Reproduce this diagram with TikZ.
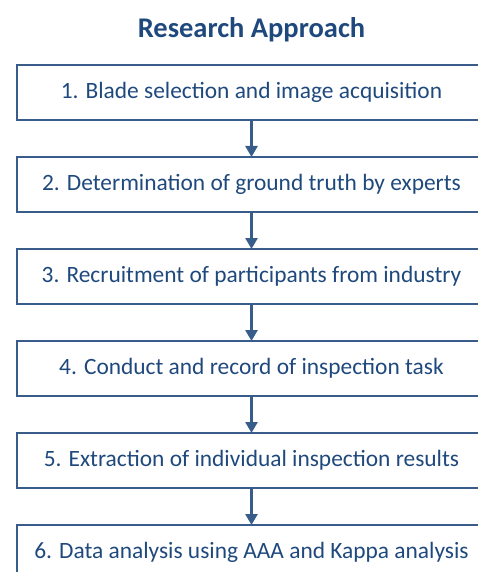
\documentclass[tikz,border=0pt]{standalone}
\usepackage{fontspec}
\setmainfont{Carlito}
\usetikzlibrary{positioning,arrows.meta}

\definecolor{linecol}{HTML}{385D8A}
\definecolor{textcol}{HTML}{1F497D}

\tikzset{
  stepbox/.style={draw=linecol, line width=1.8pt, minimum width=469pt, minimum height=55pt,
    text=textcol, font=\fontsize{23.4}{28}\selectfont, inner sep=0pt},
  flow/.style={draw=linecol, line width=2.6pt, -{Triangle[width=12pt,length=11pt]}, shorten <=-0.9pt, shorten >=-0.9pt}
}

\begin{document}
\begin{tikzpicture}[x=1pt,y=1pt]
    \useasboundingbox (0,0) rectangle (477,-572);
    % title
    \node[text=textcol, font=\fontsize{28.5}{34}\selectfont\bfseries] (title) at (251.5,-30) {Research Approach};
    % the six steps
    \node[stepbox] (s1) at (251.5,-92.5) {1. Blade selection and image acquisition};
    \node[stepbox, below=35.2pt of s1] (s2) {2. Determination of ground truth by experts};
    \node[stepbox, below=35.2pt of s2] (s3) {3. Recruitment of participants from industry};
    \node[stepbox, below=35.2pt of s3] (s4) {4. Conduct and record of inspection task};
    \node[stepbox, below=35.2pt of s4] (s5) {5. Extraction of individual inspection results};
    \node[stepbox, below=35.2pt of s5] (s6) {6. Data analysis using AAA and Kappa analysis};
    % arrows between the steps
    \foreach \a/\b in {s1/s2,s2/s3,s3/s4,s4/s5,s5/s6}
      \draw[flow] (\a) -- (\b);
\end{tikzpicture}
\end{document}
